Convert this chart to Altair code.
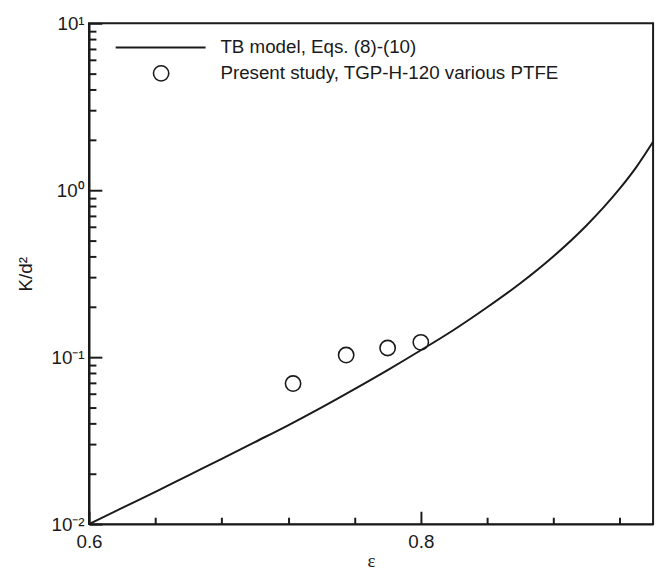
import altair as alt
import pandas as pd

# --- data ---
eps_model = [0.60, 0.62, 0.64, 0.66, 0.68, 0.70, 0.72, 0.74, 0.76, 0.78,
             0.80, 0.82, 0.84, 0.86, 0.88, 0.90, 0.91, 0.92, 0.93, 0.94]
k_model = [0.0100, 0.0125, 0.0156, 0.0196, 0.0246, 0.0310, 0.0391, 0.0499, 0.0644, 0.0837,
           0.110, 0.146, 0.199, 0.277, 0.402, 0.617, 0.786, 1.025, 1.38, 1.95]

eps_exp = [0.723, 0.755, 0.780, 0.800]
k_exp = [0.0695, 0.103, 0.1135, 0.1227]

legend_labels = ["TB model, Eqs. (8)-(10)", "Present study, TGP-H-120 various PTFE"]

x_major = [0.6, 0.7, 0.8, 0.9]
x_minor = [0.62, 0.64, 0.66, 0.68, 0.72, 0.74, 0.76, 0.78, 0.82, 0.84, 0.86, 0.88, 0.92]
y_major = [0.01, 0.1, 1, 10]
y_major_labels = ["10\u207b\u00b2", "10\u207b\u00b9", "10\u2070", "10\u00b9"]
y_minor = [m * d for d in (0.01, 0.1, 1) for m in range(2, 10)]

x_title = "\u03b5"
y_title = "K/d\u00b2"

W, H = 571, 507
FONT = "Liberation Sans"
FS = 19
INK = "#1a1a1a"
MAJOR, MINOR = 13, 7

model = pd.DataFrame({"eps": eps_model, "k": k_model})
exp = pd.DataFrame({"eps": eps_exp, "k": k_exp})

xscale = alt.Scale(domain=[0.6, 0.94], nice=False, zero=False)
yscale = alt.Scale(type="log", domain=[0.01, 10], nice=False)

x_major_test = "abs(datum.value*10 - round(datum.value*10)) < 0.001"
y_major_test = "abs(log(datum.value)/LN10 - round(log(datum.value)/LN10)) < 0.001"

y_label_expr = ""
for v, lab in zip(y_major, y_major_labels):
    y_label_expr += f"abs(datum.value - {v}) < {v}*0.001 ? '{lab}' : "
y_label_expr += "''"
x_label_expr = f"{x_major_test} ? format(datum.value, '.1f') : ''"

# inward ticks drawn as short dashed pieces of the grid lines
x_grid_dash = {"condition": {"test": x_major_test, "value": [0, H - MAJOR, MAJOR, 2000]},
               "value": [0, H - MINOR, MINOR, 2000]}
y_grid_dash = {"condition": {"test": y_major_test, "value": [MAJOR, 2000]},
               "value": [MINOR, 2000]}

line = alt.Chart(model).mark_line(color=INK, strokeWidth=2, interpolate="monotone").encode(
    x=alt.X("eps:Q", scale=xscale, title=x_title,
            axis=alt.Axis(orient="bottom", values=x_major + x_minor, labelExpr=x_label_expr,
                          ticks=False, tickSize=0, labelOverlap=False, labelFlush=False,
                          labelPadding=9, labelFontSize=FS, labelFont=FONT, labelColor=INK,
                          domainColor=INK, domainWidth=2,
                          grid=True, gridColor=INK, gridWidth=2, gridOpacity=1,
                          gridDash=x_grid_dash,
                          titleFont="Liberation Serif", titleFontSize=FS, titleFontWeight="normal",
                          titleColor=INK, titlePadding=0)),
    y=alt.Y("k:Q", scale=yscale, title=y_title,
            axis=alt.Axis(orient="left", values=y_major + y_minor, labelExpr=y_label_expr,
                          ticks=False, tickSize=0, labelOverlap=False, labelFlush=False,
                          labelPadding=5, labelFontSize=FS, labelFont=FONT, labelColor=INK,
                          domainColor=INK, domainWidth=2,
                          grid=True, gridColor=INK, gridWidth=2, gridOpacity=1,
                          gridDash=y_grid_dash,
                          titleFont=FONT, titleFontSize=FS, titleFontWeight="normal",
                          titleColor=INK, titlePadding=16)),
)

points = alt.Chart(exp).mark_point(shape="circle", filled=False, color=INK, size=240,
                                   strokeWidth=1.6, opacity=1).encode(
    x=alt.X("eps:Q", scale=xscale, title=x_title),
    y=alt.Y("k:Q", scale=yscale, title=y_title),
)

leg_df = pd.DataFrame({"label": legend_labels})

leg_line = alt.Chart(leg_df.iloc[[0]]).mark_rule(color=INK, strokeWidth=2).encode(
    x=alt.value(27), x2=alt.value(118), y=alt.value(24.5))
leg_pt = alt.Chart(leg_df.iloc[[1]]).mark_point(shape="circle", filled=False, color=INK, size=240,
                                               strokeWidth=1.6, opacity=1).encode(
    x=alt.value(73), y=alt.value(50.7))
leg_txt1 = alt.Chart(leg_df.iloc[[0]]).mark_text(align="left", baseline="middle", font=FONT,
                                                fontSize=FS, color=INK).encode(
    x=alt.value(133), y=alt.value(24.5), text="label:N")
leg_txt2 = alt.Chart(leg_df.iloc[[1]]).mark_text(align="left", baseline="middle", font=FONT,
                                                fontSize=FS, color=INK).encode(
    x=alt.value(133), y=alt.value(50.7), text="label:N")

chart = alt.layer(line, points, leg_line, leg_pt, leg_txt1, leg_txt2).properties(
    width=W, height=H,
    autosize=alt.AutoSizeParams(type="none"),
    padding={"left": 82, "top": 12, "right": 7, "bottom": 45},
).configure_view(stroke=INK, strokeWidth=2)

chart.save("out.html", embed_options={"renderer": "svg", "actions": False})
